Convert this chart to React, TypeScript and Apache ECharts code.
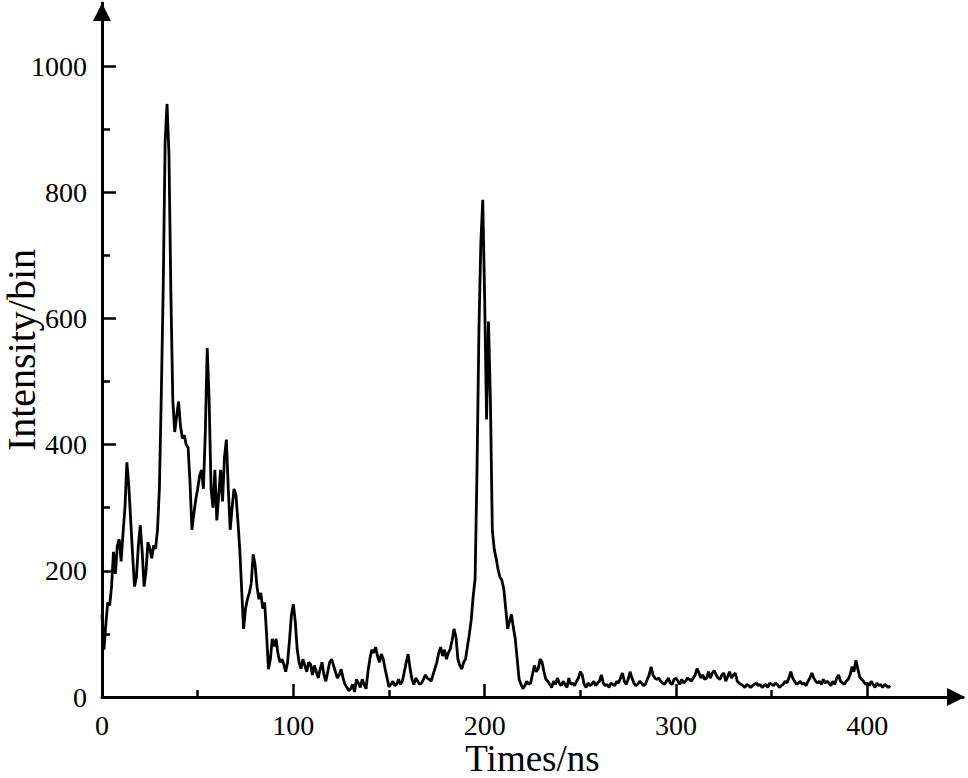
import React, { useEffect, useRef } from "react";
import * as echarts from "echarts";

// Intensity per 1 ns bin, starting at 0 ns
const binNs = 1;
const intensity: number[] = [
  130, 75, 115, 150, 145, 175, 230, 195, 240, 250,
  215, 260, 300, 372, 335, 280, 225, 175, 190, 240,
  272, 230, 175, 200, 245, 235, 220, 240, 235, 265,
  330, 480, 650, 880, 940, 860, 640, 471, 420, 445,
  468, 430, 410, 415, 400, 395, 340, 265, 290, 313,
  330, 350, 360, 330, 420, 553, 470, 330, 300, 360,
  280, 320, 360, 310, 380, 408, 330, 265, 300, 330,
  320, 280, 234, 170, 108, 140, 155, 165, 180, 226,
  210, 175, 155, 165, 140, 150, 100, 44, 60, 92,
  80, 92, 68, 55, 60, 52, 40, 55, 90, 130,
  147, 120, 76, 55, 45, 60, 50, 40, 55, 52,
  35, 50, 40, 30, 44, 55, 35, 25, 40, 55,
  60, 50, 40, 30, 35, 44, 30, 20, 15, 10,
  13, 20, 8, 28, 22, 15, 28, 20, 13, 40,
  60, 75, 70, 79, 65, 55, 68, 60, 44, 30,
  16, 20, 25, 18, 20, 28, 20, 25, 40, 55,
  68, 45, 28, 20, 30, 25, 20, 22, 28, 35,
  30, 28, 25, 35, 45, 55, 70, 79, 65, 75,
  60, 70, 76, 90, 108, 95, 60, 50, 44, 55,
  60, 80, 100, 123, 160, 187, 360, 582, 720, 788,
  630, 440, 595, 471, 265, 234, 220, 202, 190, 185,
  171, 140, 108, 120, 131, 110, 92, 60, 28, 20,
  13, 18, 25, 20, 22, 36, 50, 40, 45, 60,
  55, 40, 28, 25, 20, 15, 25, 20, 30, 22,
  18, 25, 20, 15, 30, 20, 22, 18, 25, 30,
  40, 35, 20, 15, 22, 18, 20, 25, 18, 22,
  25, 35, 22, 18, 20, 15, 22, 20, 18, 25,
  22, 30, 38, 25, 20, 28, 40, 30, 22, 18,
  20, 25, 22, 18, 20, 28, 35, 48, 35, 30,
  28, 30, 25, 22, 20, 25, 30, 22, 20, 28,
  30, 25, 20, 28, 22, 25, 30, 28, 25, 30,
  35, 45, 38, 30, 35, 28, 30, 40, 30, 38,
  42, 35, 30, 28, 35, 38, 25, 32, 40, 30,
  35, 38, 25, 22, 20, 18, 15, 20, 18, 15,
  18, 20, 22, 18, 20, 15, 18, 20, 15, 22,
  20, 18, 22, 20, 15, 18, 20, 25, 22, 30,
  40, 30, 25, 20, 22, 25, 20, 22, 18, 25,
  30, 38, 30, 25, 22, 25, 20, 28, 22, 25,
  22, 18, 25, 20, 30, 35, 25, 22, 20, 25,
  28, 35, 48, 40, 58, 45, 32, 28, 25, 20,
  22, 18, 25, 20, 15, 22, 18, 20, 15, 20,
  18, 15, 18,
];

const xMajorTicks = [0, 100, 200, 300, 400];
const xMinorTicks = [50, 150, 250, 350];
const yMajorTicks = [0, 200, 400, 600, 800, 1000];
const yMinorTicks = [100, 300, 500, 700, 900];

const FONT = '"Liberation Serif", "DejaVu Serif", "Times New Roman", serif';

export default function App() {
  const ref = useRef<HTMLDivElement>(null);
  useEffect(() => {
    if (!ref.current) return;
    const chart = echarts.init(ref.current, undefined, { renderer: "svg" });
    const lineStyle = { color: "#000", width: 3 };
    const xMin = 0,
      xMax = 450,
      yMin = 0,
      yMax = 1100;
    const plain = (v: number) => String(v);
    chart.setOption({
      animation: false,
      backgroundColor: "#fff",
      grid: {
        left: 102,
        right: 5,
        top: 3,
        bottom: 81,
        containLabel: false,
        outerBoundsMode: "none",
      },
      xAxis: [
        {
          type: "value",
          min: xMin,
          max: xMax,
          position: "bottom",
          name: "Times/ns",
          nameLocation: "middle",
          nameGap: 43,
          nameMoveOverlap: false,
          nameTextStyle: { fontFamily: FONT, fontSize: 37, color: "#000" },
          axisLine: {
            show: true,
            lineStyle,
            symbol: ["none", "triangle"],
            symbolSize: [18, 18],
            symbolOffset: [0, -7],
          },
          axisTick: {
            show: true,
            inside: true,
            length: 13,
            lineStyle: { color: "#000", width: 2.5 },
            customValues: xMajorTicks,
          },
          axisLabel: {
            show: true,
            margin: 14,
            fontFamily: FONT,
            fontSize: 28,
            color: "#000",
            formatter: plain,
            customValues: xMajorTicks,
          },
          splitLine: { show: false },
        },
        {
          type: "value",
          min: xMin,
          max: xMax,
          position: "bottom",
          axisLine: { show: false },
          axisTick: {
            show: true,
            inside: true,
            length: 7,
            lineStyle: { color: "#000", width: 2.5 },
            customValues: xMinorTicks,
          },
          axisLabel: { show: false },
          splitLine: { show: false },
        },
      ],
      yAxis: [
        {
          type: "value",
          min: yMin,
          max: yMax,
          position: "left",
          name: "Intensity/bin",
          nameLocation: "middle",
          nameGap: 61,
          nameMoveOverlap: false,
          nameRotate: 90,
          nameTextStyle: { fontFamily: FONT, fontSize: 40, color: "#000" },
          axisLine: {
            show: true,
            lineStyle,
            symbol: ["none", "triangle"],
            symbolSize: [18, 18],
            symbolOffset: [0, -9],
          },
          axisTick: {
            show: true,
            inside: true,
            length: 14,
            lineStyle: { color: "#000", width: 2.5 },
            customValues: yMajorTicks,
          },
          axisLabel: {
            show: true,
            margin: 15,
            fontFamily: FONT,
            fontSize: 28,
            color: "#000",
            formatter: plain,
            customValues: yMajorTicks,
          },
          splitLine: { show: false },
        },
        {
          type: "value",
          min: yMin,
          max: yMax,
          position: "left",
          axisLine: { show: false },
          axisTick: {
            show: true,
            inside: true,
            length: 8,
            lineStyle: { color: "#000", width: 2.5 },
            customValues: yMinorTicks,
          },
          axisLabel: { show: false },
          splitLine: { show: false },
        },
      ],
      series: [
        {
          type: "line",
          xAxisIndex: 0,
          yAxisIndex: 0,
          data: intensity.map((v, i) => [i * binNs, v]),
          showSymbol: false,
          symbol: "none",
          lineStyle: { color: "#000", width: 2.8 },
          z: 3,
        },
      ],
    });
    return () => chart.dispose();
  }, []);
  return (
    <div
      ref={ref}
      style={{ position: "absolute", left: 0, top: 0, width: 968, height: 778 }}
    />
  );
}
